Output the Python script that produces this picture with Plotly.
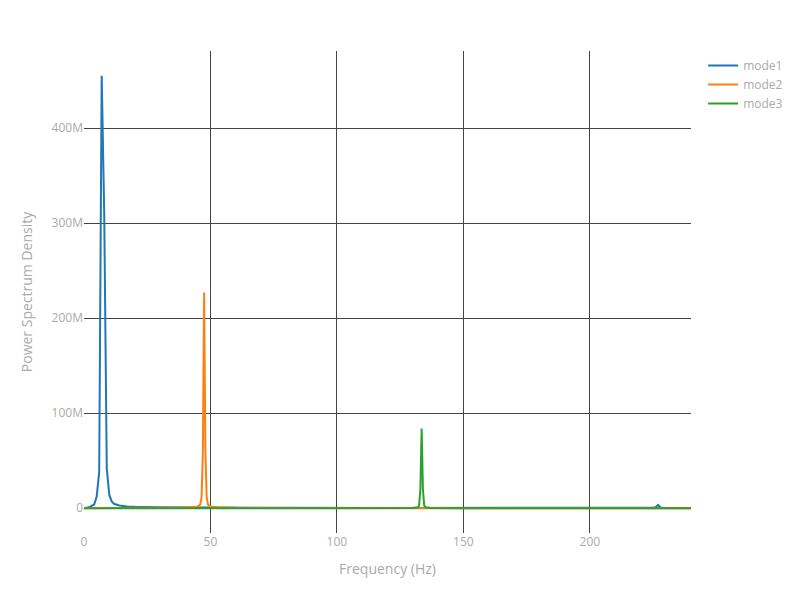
import plotly.graph_objects as go

f1 = [0, 2, 4, 5, 6, 7, 8, 9, 10, 11, 12, 14, 17, 20, 30, 50, 80, 120, 160, 200, 220, 225, 226, 227, 228, 229, 240]
m1 = [0, 1e6, 4e6, 12e6, 38e6, 455e6, 310e6, 42e6, 14e6, 7e6, 4.5e6, 3e6, 2e6, 1.6e6, 1.2e6, 0.8e6, 0.5e6, 0.3e6, 0.2e6, 0.2e6, 0.5e6, 0.8e6, 1e6, 3.5e6, 0.8e6, 0.3e6, 0.2e6]
f2 = [0, 20, 40, 44, 45, 46, 46.5, 47, 47.5, 48, 48.5, 49, 50, 53, 60, 100, 150, 200, 240]
m2 = [0, 0.3e6, 0.8e6, 1.5e6, 2e6, 4e6, 12e6, 60e6, 227e6, 60e6, 12e6, 4e6, 2e6, 1e6, 0.5e6, 0.1e6, 0.05e6, 0.02e6, 0]
f3 = [0, 50, 100, 130, 132, 132.5, 133, 133.5, 134, 134.5, 135, 137, 150, 200, 240]
m3 = [0, 0, 0.05e6, 0.3e6, 1e6, 3e6, 20e6, 84e6, 20e6, 3e6, 1e6, 0.3e6, 0.1e6, 0.02e6, 0]

fig = go.Figure()
for name, x, y, c in [("mode1", f1, m1, "#1f77b4"), ("mode2", f2, m2, "#ff7f0e"), ("mode3", f3, m3, "#2ca02c")]:
    fig.add_trace(go.Scatter(x=x, y=y, mode="lines", name=name, line=dict(color=c, width=2)))

fig.update_layout(
    width=800, height=600, paper_bgcolor="white", plot_bgcolor="white",
    font=dict(family="Open Sans", color="#aaaaaa", size=12),
    margin=dict(l=76, r=117, t=43, b=75),
    legend=dict(x=1.02, y=1, font=dict(color="#aaaaaa")),
    xaxis=dict(title="Frequency (Hz)", range=[0, 240], showgrid=True, gridcolor="#444444",
               zeroline=False, tickvals=[0, 50, 100, 150, 200]),
    yaxis=dict(title="Power Spectrum Density", range=[-26e6, 481e6], showgrid=True, gridcolor="#444444",
               zeroline=False, tickvals=[0, 100e6, 200e6, 300e6, 400e6],
               ticktext=["0", "100M", "200M", "300M", "400M"]),
)
fig.write_html("out.html")
